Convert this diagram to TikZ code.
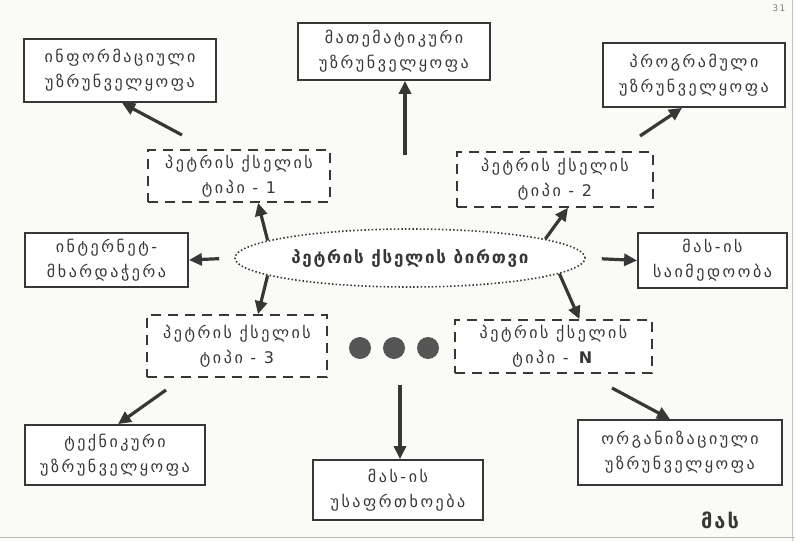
\documentclass[tikz,border=0pt]{standalone}
\usepackage{fontspec}
\setmainfont{DejaVu Sans}
\newfontfamily\geo[LetterSpace=16]{DejaVu Sans}
\newfontfamily\geoc[LetterSpace=10]{DejaVu Sans}
\usetikzlibrary{arrows.meta,shapes.geometric}
\definecolor{ink}{RGB}{55,55,55}
\definecolor{paper}{RGB}{250,250,247}
\begin{document}
\begin{tikzpicture}[x=1pt,y=-1pt,
  box/.style={draw=ink, line width=1.8pt, fill=white, align=center, inner sep=0pt,
    font=\geo\fontsize{16}{25}\selectfont, text=ink},
  dbox/.style={box, dash pattern=on 10pt off 7pt, line width=1.6pt},
  arr/.style={-{Triangle[length=13pt,width=12pt]}, line width=3.2pt, draw=ink},
  dot/.style={circle, fill=ink!85, inner sep=0pt, minimum size=22pt},
]
\fill[paper] (0,0) rectangle (795,541);
\useasboundingbox (0,0) rectangle (795,541);
\draw[gray!55, line width=1pt] (0,537) -- (795,537);
\draw[gray!45, line width=1pt] (792,0) -- (792,541);
\node[font=\geo\fontsize{9}{10}\selectfont, text=gray] (pg) at (779,8) {31};

% boxes
\node[box, minimum width=192pt, minimum height=63pt] (info) at (120,70.5) {ინფორმაციული\\უზრუნველყოფა};
\node[box, minimum width=192pt, minimum height=57pt] (math) at (394,51.5) {მათემატიკური\\უზრუნველყოფა};
\node[box, minimum width=182pt, minimum height=64pt] (prog) at (694,75) {პროგრამული\\უზრუნველყოფა};

\node[dbox, minimum width=182pt, minimum height=52pt] (t1) at (239,176) {პეტრის ქსელის\\ტიპი - 1};
\node[dbox, minimum width=196pt, minimum height=55pt] (t2) at (555,179.5) {პეტრის ქსელის\\ტიპი - 2};

\node[ellipse, draw=ink, line width=1.6pt, dash pattern=on 1.5pt off 2.2pt, fill=white,
  minimum width=350pt, minimum height=58pt, inner sep=0pt,
  font=\geoc\bfseries\fontsize{17}{19}\selectfont, text=ink] (core) at (410,258) {პეტრის ქსელის ბირთვი};

\node[box, minimum width=163pt, minimum height=54pt] (inet) at (106.5,260) {ინტერნეტ-\\მხარდაჭერა};
\node[box, minimum width=149pt, minimum height=55pt] (rel) at (712.5,260.5) {მას-ის\\საიმედოობა};

\node[dbox, minimum width=180pt, minimum height=62pt] (t3) at (237,346) {პეტრის ქსელის\\ტიპი - 3};
\node[dbox, minimum width=197pt, minimum height=53pt] (tN) at (553.5,346.5) {პეტრის ქსელის\\ტიპი - \textbf{N}};

\node[dot] (d1) at (360,348) {};
\node[dot] (d2) at (394,348) {};
\node[dot] (d3) at (428,348) {};

\node[box, minimum width=180pt, minimum height=60pt] (tech) at (115,455) {ტექნიკური\\უზრუნველყოფა};
\node[box, minimum width=170pt, minimum height=60pt] (safe) at (398,490) {მას-ის\\უსაფრთხოება};
\node[box, minimum width=204pt, minimum height=65pt] (org) at (680,452.5) {ორგანიზაციული\\უზრუნველყოფა};

\node[font=\geoc\bfseries\fontsize{20}{22}\selectfont, text=ink] (mas) at (720,520) {მას};

% free ends
\coordinate (a1) at (182,135);
\coordinate (a2) at (405,155);
\coordinate (a3) at (640,136);
\coordinate (a10) at (166,390);
\coordinate (a11) at (400,385);
\coordinate (a12) at (612,388);

% arrows
\draw[arr] (a1) -- ([xshift=2pt]info.south);
\draw[arr] (a2) -- ([xshift=11pt]math.south);
\draw[arr] (a3) -- ([xshift=-12pt]prog.south);
\draw[arr] (core.173) -- ([xshift=19pt]t1.south);
\draw[arr] (core.8) -- ([xshift=13pt]t2.south);
\draw[arr] (core.187) -- ([xshift=21pt]t3.north);
\draw[arr] (core.354) -- ([xshift=26pt]tN.north);
\draw[arr, shorten <=15pt] (core.west) -- (inet.east);
\draw[arr, shorten <=16pt] (core.east) -- (rel.west);
\draw[arr] (a10) -- ([xshift=3pt]tech.north);
\draw[arr] (a11) -- ([xshift=2pt]safe.north);
\draw[arr] (a12) -- ([xshift=-10pt]org.north);
\end{tikzpicture}
\end{document}
